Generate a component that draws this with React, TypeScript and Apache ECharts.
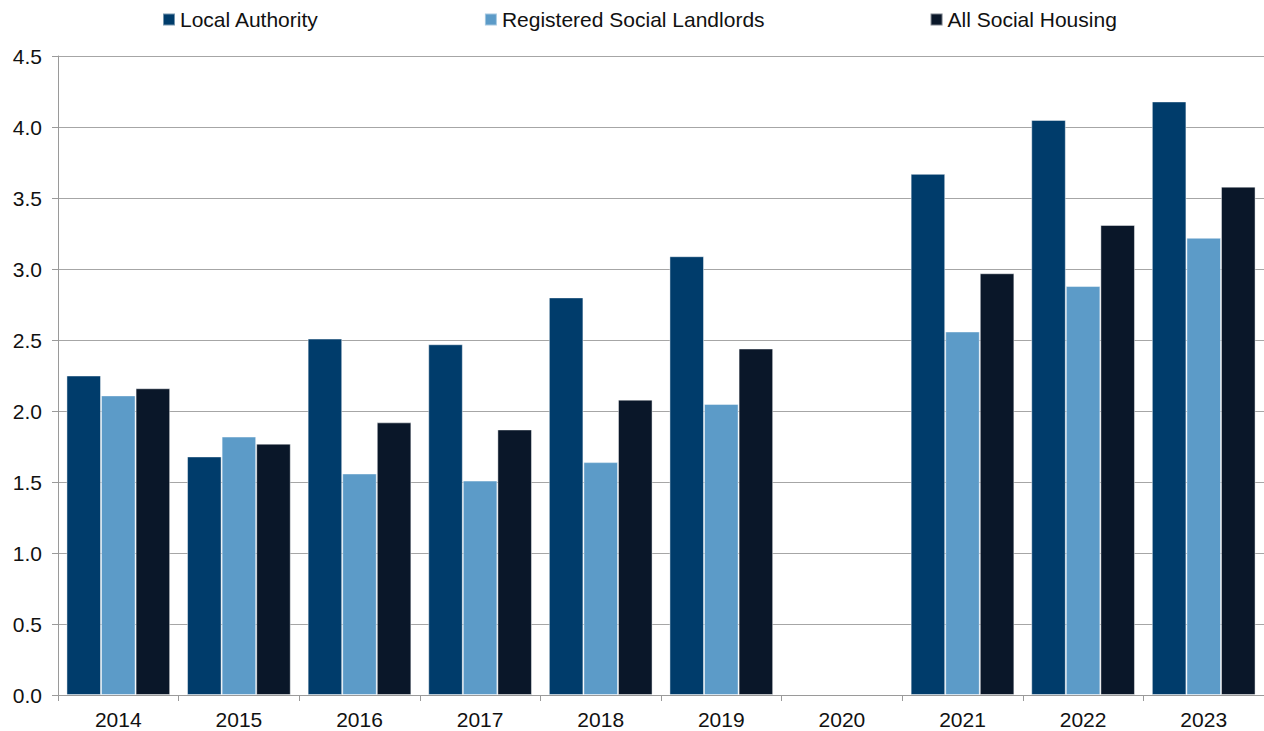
import React, { useEffect, useRef } from "react";
import * as echarts from "echarts";

const years = ["2014", "2015", "2016", "2017", "2018", "2019", "2020", "2021", "2022", "2023"];
const localAuthority = [2.25, 1.68, 2.51, 2.47, 2.8, 3.09, null, 3.67, 4.05, 4.18];
const registeredSocialLandlords = [2.11, 1.82, 1.56, 1.51, 1.64, 2.05, null, 2.56, 2.88, 3.22];
const allSocialHousing = [2.16, 1.77, 1.92, 1.87, 2.08, 2.44, null, 2.97, 3.31, 3.58];
const yTicks = { min: 0, max: 4.5, interval: 0.5 };

const FONT = "Liberation Sans, Arial, sans-serif";

export default function App() {
  const ref = useRef<HTMLDivElement>(null);
  useEffect(() => {
    if (!ref.current) return;
    const chart = echarts.init(ref.current, null, { renderer: "svg" });
    const border = { borderColor: "rgba(255,255,255,0.45)", borderWidth: 1 };
    chart.setOption({
      animation: false,
      textStyle: { fontFamily: FONT },
      legend: {
        top: 9,
        left: 162,
        padding: 0,
        itemWidth: 12,
        itemHeight: 12,
        itemGap: 165,
        icon: "rect",
        textStyle: { fontSize: 21, color: "#111", fontFamily: FONT },
        data: ["Local Authority", "Registered Social Landlords", "All Social Housing"],
      },
      grid: { left: 58, right: 0, top: 56, bottom: 36, containLabel: false },
      xAxis: {
        type: "category",
        data: years,
        axisLine: { lineStyle: { color: "#9a9a9a", width: 1 } },
        axisTick: { show: true, length: 6, lineStyle: { color: "#9a9a9a" } },
        axisLabel: { fontSize: 21, color: "#111", margin: 14, fontFamily: FONT },
      },
      yAxis: {
        type: "value",
        min: yTicks.min,
        max: yTicks.max,
        interval: yTicks.interval,
        axisLine: { show: true, lineStyle: { color: "#9a9a9a", width: 1 } },
        axisTick: { show: true, length: 6, lineStyle: { color: "#9a9a9a" } },
        axisLabel: {
          fontSize: 21,
          color: "#111",
          margin: 16,
          fontFamily: FONT,
          formatter: (v: number) => v.toFixed(1),
        },
        splitLine: { show: true, lineStyle: { color: "#a6a6a6", width: 1 } },
      },
      series: [
        {
          name: "Local Authority",
          type: "bar",
          data: localAuthority,
          barGap: "0%",
          barCategoryGap: "14%",
          itemStyle: { color: "#003c6b", ...border },
        },
        {
          name: "Registered Social Landlords",
          type: "bar",
          data: registeredSocialLandlords,
          barGap: "0%",
          barCategoryGap: "14%",
          itemStyle: { color: "#5c9bc8", ...border },
        },
        {
          name: "All Social Housing",
          type: "bar",
          data: allSocialHousing,
          barGap: "0%",
          barCategoryGap: "14%",
          itemStyle: { color: "#0a1729", ...border },
        },
      ],
    });
    return () => chart.dispose();
  }, []);
  return (
    <div
      ref={ref}
      style={{ position: "absolute", left: 0, top: 0, width: 1264, height: 731, background: "#fff" }}
    />
  );
}
